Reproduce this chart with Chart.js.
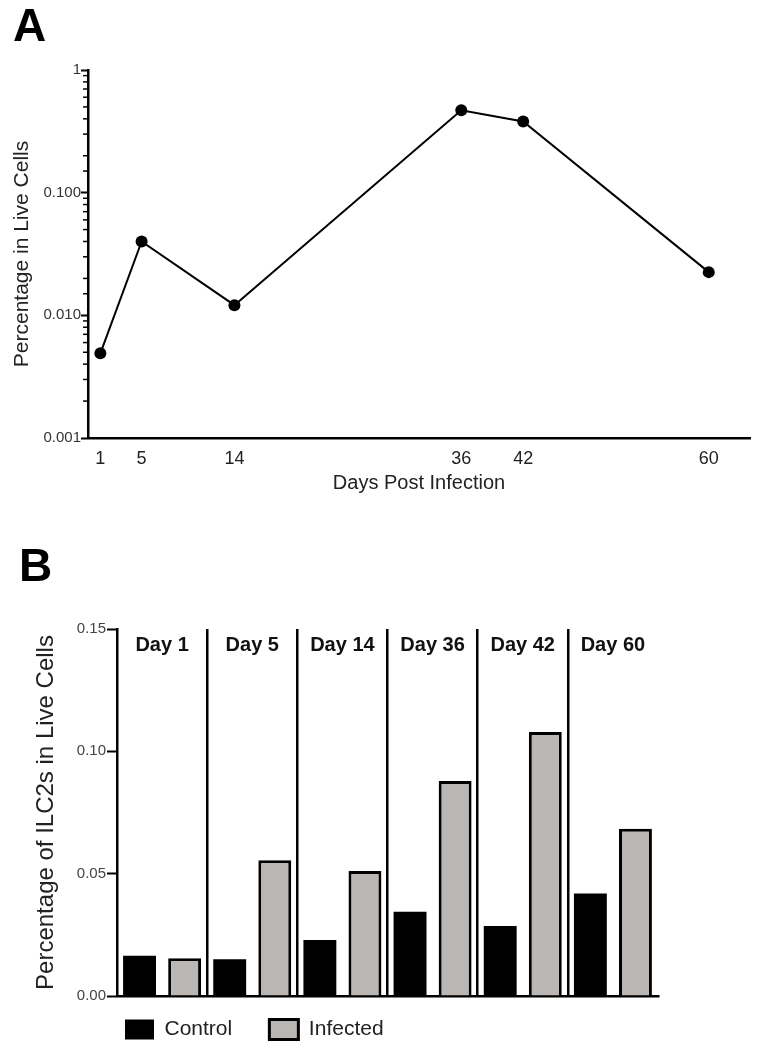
<!DOCTYPE html>
<html lang="en">
<head>
    <meta charset="UTF-8">
    <title>ILC2s in Live Cells</title>
    <script src="https://cdn.jsdelivr.net/npm/chart.js"></script>
    <style>
        body { margin: 0; background: #fff; font-family: 'Liberation Sans', Arial, sans-serif; }
        .lienzo { position: relative; width: 770px; height: 1050px; }
        .letra { position: absolute; font-weight: bold; font-size: 46px; line-height: 1; color: #000; }
        #panelA { position: absolute; left: 0; top: 0; }
        #panelB { position: absolute; left: 0; top: 520px; }
    </style>
</head>
<body>
<div class="lienzo">
    <canvas id="panelA" width="770" height="520"></canvas>
    <canvas id="panelB" width="770" height="530"></canvas>
    <div class="letra" style="left:13px; top:2px;">A</div>
    <div class="letra" style="left:19px; top:542px;">B</div>
</div>

<script>
    // Panel A: time course (log scale)
    const daysA = [1, 5, 14, 36, 42, 60];
    const pctA = [0.0049, 0.040, 0.0121, 0.47, 0.38, 0.0225];
    const yMajorA = [0.001, 0.01, 0.1, 1];
    const yMajorLabelsA = ['0.001', '0.010', '0.100', '1'];

    // Panel B: control vs infected
    const dayLabels = ['Day 1', 'Day 5', 'Day 14', 'Day 36', 'Day 42', 'Day 60'];
    const controlVals = [0.0165, 0.0150, 0.0229, 0.0344, 0.0286, 0.0419];
    const infectedVals = [0.0154, 0.0555, 0.0511, 0.0879, 0.1079, 0.0684];
    const yTicksB = [0, 0.05, 0.10, 0.15];

    const fuente = "'Liberation Sans', Arial, sans-serif";

    function esMayor(v) {
        return yMajorA.some(m => Math.abs(m - v) / m < 1e-6);
    }

    const ticksMenores = {
        id: 'ticksMenores',
        afterDraw(chart) {
            const y = chart.scales.y;
            const ctx = chart.ctx;
            ctx.save();
            ctx.strokeStyle = '#000';
            ctx.lineWidth = 1.5;
            y.ticks.forEach(t => {
                if (esMayor(t.value)) return;
                const py = y.getPixelForValue(t.value);
                ctx.beginPath();
                ctx.moveTo(y.right - 5, py);
                ctx.lineTo(y.right, py);
                ctx.stroke();
            });
            ctx.restore();
        }
    };

    new Chart(document.getElementById('panelA'), {
        type: 'line',
        data: {
            datasets: [{
                data: daysA.map((d, i) => ({ x: d, y: pctA[i] })),
                borderColor: '#000',
                borderWidth: 2,
                backgroundColor: '#000',
                pointRadius: 6,
                pointBackgroundColor: '#000',
                pointBorderWidth: 0,
                tension: 0
            }]
        },
        options: {
            responsive: false,
            animation: false,
            layout: { padding: { top: 70, right: 20, bottom: 25, left: 0 } },
            plugins: { legend: { display: false }, tooltip: { enabled: false } },
            scales: {
                x: {
                    type: 'linear',
                    min: -0.2,
                    max: 64,
                    afterBuildTicks: s => { s.ticks = daysA.map(v => ({ value: v })); },
                    afterFit: s => { s.height = 57; },
                    grid: { display: false },
                    border: { color: '#000', width: 2.5 },
                    ticks: { font: { family: fuente, size: 18 }, color: '#222', padding: 2, autoSkip: false, maxRotation: 0 },
                    title: { display: true, text: 'Days Post Infection', font: { family: fuente, size: 20 }, color: '#222', padding: { top: 0, bottom: 0 } }
                },
                y: {
                    type: 'logarithmic',
                    min: 0.001,
                    max: 1,
                    afterFit: s => { s.width = 88; },
                    grid: {
                        drawOnChartArea: false,
                        tickLength: 7,
                        tickWidth: 2,
                        tickColor: c => (c.tick && esMayor(c.tick.value)) ? '#000' : 'rgba(0,0,0,0)'
                    },
                    border: { color: '#000', width: 2.5 },
                    ticks: {
                        autoSkip: false,
                        padding: 0,
                        font: { family: fuente, size: 15 },
                        color: '#333',
                        callback: v => {
                            const i = yMajorA.findIndex(m => Math.abs(m - v) / m < 1e-6);
                            return i >= 0 ? yMajorLabelsA[i] : '';
                        }
                    },
                    title: { display: true, text: 'Percentage in Live Cells', font: { family: fuente, size: 21 }, color: '#222', padding: { top: 10, bottom: 0 } }
                }
            }
        },
        plugins: [ticksMenores]
    });

    const etiquetasDia = {
        id: 'etiquetasDia',
        afterDatasetsDraw(chart) {
            const x = chart.scales.x;
            const ctx = chart.ctx;
            ctx.save();
            ctx.font = 'bold 20px ' + fuente;
            ctx.fillStyle = '#111';
            ctx.textAlign = 'center';
            ctx.textBaseline = 'middle';
            dayLabels.forEach((lbl, i) => {
                ctx.fillText(lbl, x.getPixelForValue(i), chart.chartArea.top + 16);
            });
            ctx.restore();
        }
    };

    new Chart(document.getElementById('panelB'), {
        type: 'bar',
        data: {
            labels: dayLabels,
            datasets: [
                { label: 'Control', data: controlVals, backgroundColor: '#000', borderColor: '#000', borderWidth: 0 },
                { label: 'Infected', data: infectedVals, backgroundColor: '#bab6b4', borderColor: '#000', borderWidth: 3 }
            ]
        },
        options: {
            responsive: false,
            animation: false,
            barPercentage: 0.73,
            categoryPercentage: 1.0,
            layout: { padding: { top: 109, right: 112, bottom: 0, left: 0 } },
            plugins: {
                tooltip: { enabled: false },
                legend: {
                    position: 'bottom',
                    align: 'start',
                    fullSize: false,
                    labels: {
                        boxWidth: 29,
                        boxHeight: 20,
                        padding: 8,
                        color: '#222',
                        font: { family: fuente, size: 21 },
                        generateLabels: chart => Chart.defaults.plugins.legend.labels.generateLabels(chart)
                            .map((it, i) => (i === 0 ? Object.assign(it, { text: it.text + '     ' }) : it))
                    }
                }
            },
            scales: {
                x: {
                    afterFit: s => { s.height = 15; },
                    grid: {
                        offset: true,
                        drawTicks: false,
                        lineWidth: 2.5,
                        color: c => (c.type !== 'tick' || c.index === 0) ? 'rgba(0,0,0,0)' : '#000'
                    },
                    border: { color: '#000', width: 2.5 },
                    ticks: { display: false }
                },
                y: {
                    min: 0,
                    max: 0.15,
                    afterBuildTicks: s => { s.ticks = yTicksB.map(v => ({ value: v })); },
                    afterFit: s => { s.width = 117; },
                    grid: { drawOnChartArea: false, tickLength: 10, tickWidth: 2, tickColor: '#000' },
                    border: { color: '#000', width: 2.5 },
                    ticks: { padding: 1, font: { family: fuente, size: 15 }, color: '#444', callback: v => v.toFixed(2) },
                    title: { display: true, text: 'Percentage of ILC2s in Live Cells', font: { family: fuente, size: 24 }, color: '#222', padding: { top: 32, bottom: 0 } }
                }
            }
        },
        plugins: [etiquetasDia]
    });
</script>
</body>
</html>
